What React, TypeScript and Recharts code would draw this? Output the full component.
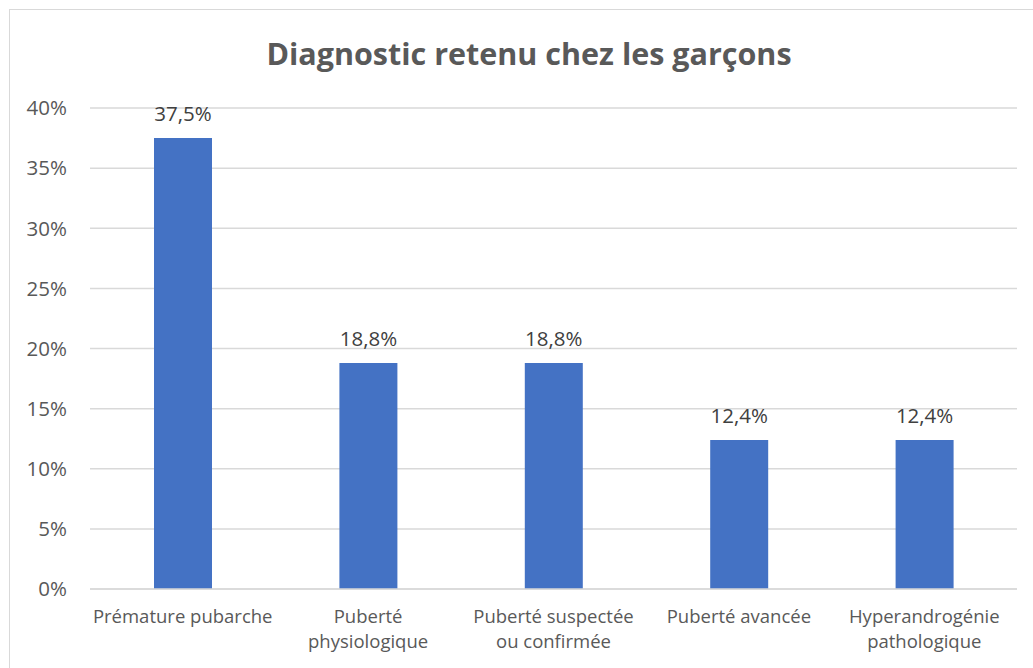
import React from 'react';
import { BarChart, Bar, XAxis, YAxis, CartesianGrid, LabelList } from 'recharts';

const categories = [
  'Prémature pubarche',
  'Puberté\nphysiologique',
  'Puberté suspectée\nou confirmée',
  'Puberté avancée',
  'Hyperandrogénie\npathologique',
];
const values = [37.5, 18.8, 18.8, 12.4, 12.4];
const yTicks = [0, 5, 10, 15, 20, 25, 30, 35, 40];

const data = categories.map((name, i) => ({ name, value: values[i] }));

const FONT = '"Open Sans", sans-serif';

function CategoryTick({ x, y, payload }: any) {
  const lines = String(payload.value).split('\n');
  return (
    <text x={x} y={y} textAnchor="middle" fill="#595959" fontSize={18.5} fontFamily={FONT}>
      {lines.map((line, i) => (
        <tspan key={i} x={x} dy={i === 0 ? 26 : 25}>
          {line}
        </tspan>
      ))}
    </text>
  );
}

export default function App() {
  return (
    <div style={{ position: 'absolute', left: 0, top: 0, width: 1033, height: 668, background: '#fff', overflow: 'hidden' }}>
      <div
        style={{
          position: 'absolute',
          left: 9,
          top: 9,
          width: 1040,
          height: 680,
          border: '1px solid #d9d9d9',
          boxSizing: 'border-box',
        }}
      />
      <div
        style={{
          position: 'absolute',
          left: 0,
          width: 1058,
          top: 33,
          textAlign: 'center',
          fontFamily: FONT,
          fontWeight: 700,
          fontSize: 30.5,
          lineHeight: '40px',
          color: '#595959',
        }}
      >
        Diagnostic retenu chez les garçons
      </div>
      <div style={{ position: 'absolute', left: 0, top: 0 }}>
        <BarChart
          width={1033}
          height={668}
          data={data}
          margin={{ top: 108, right: 16, bottom: 0, left: 0 }}
        >
          <CartesianGrid vertical={false} stroke="#d9d9d9" strokeWidth={1.5} />
          <XAxis
            dataKey="name"
            axisLine={{ stroke: '#d9d9d9', strokeWidth: 1.5 }}
            tickLine={false}
            tick={<CategoryTick />}
            interval={0}
            height={79}
          />
          <YAxis
            width={90}
            domain={[0, 40]}
            ticks={yTicks}
            tickFormatter={(v: number) => `${v}%`}
            axisLine={false}
            tickLine={false}
            tickSize={0}
            tickMargin={23}
            tick={{ fill: '#595959', fontSize: 20.5, fontFamily: FONT }}
          />
          <Bar dataKey="value" fill="#4472c4" barSize={58} isAnimationActive={false}>
            <LabelList
              dataKey="value"
              position="top"
              offset={17}
              formatter={(v: number) => `${String(v).replace('.', ',')}%`}
              style={{ fill: '#404040', fontSize: 20.5, fontFamily: FONT }}
            />
          </Bar>
        </BarChart>
      </div>
    </div>
  );
}
